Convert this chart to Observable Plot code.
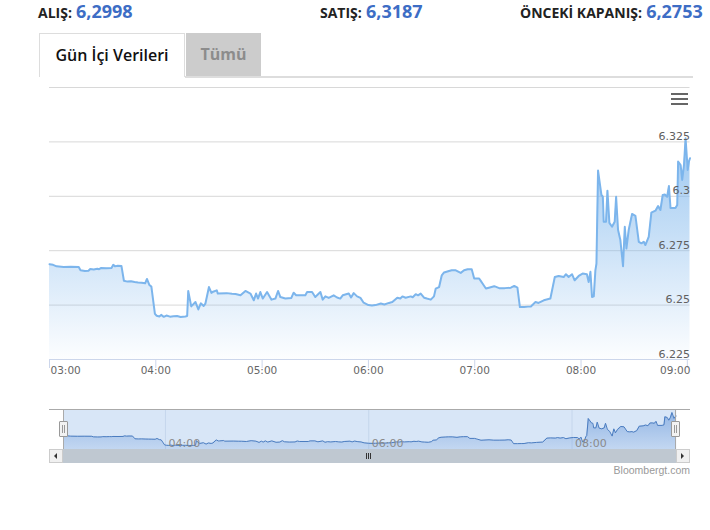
<!DOCTYPE html>
<html><head><meta charset="utf-8">
<script src="https://cdn.jsdelivr.net/npm/d3@7"></script>
<script src="https://cdn.jsdelivr.net/npm/@observablehq/plot@0.6"></script>
<style>
body{margin:0;background:#fff;}
#root{position:relative;width:710px;height:530px;overflow:hidden;font-family:"Open Sans",sans-serif;}
.abs{position:absolute;}
.q{position:absolute;top:1px;white-space:nowrap;line-height:20px;height:22px;}
.ql{font-size:14px;font-weight:700;color:#222;}
.qv{font-size:18px;font-weight:700;color:#3d6dc5;}
svg{position:absolute;left:0;overflow:visible;}
</style></head><body><div id="root"></div>
<script>
// ---- data ----
const quoteLabels = ["ALIŞ:", "SATIŞ:", "ÖNCEKİ KAPANIŞ:"];
const quoteValues = ["6,2998", "6,3187", "6,2753"];
const tabLabels = ["Gün İçi Verileri", "Tümü"];
const creditText = "Bloombergt.com";

// minutes after 03:00
const minutes = [0,2,4,8,12,16.5,17.5,20,22,23,25,27,28,29,32,35,36,37,38.5,40.6,42,44,46,48,50,52,54,55,56.4,57.5,59.5,60.5,62,63,64.5,66,68,70,72,74,76.7,77.7,78.3,80,82.4,84,85.4,87,88,90,91.4,92,94.4,95,100,103,105,107.8,110.6,113.4,115.3,116.6,117.7,119,120.4,122.8,125.3,127.5,129,130.3,133.1,136.5,137.8,139.2,144.4,145.4,148.2,150,152.9,154.2,155.7,157.6,160.4,162.3,164.1,165.5,168.9,170.2,171.7,173.6,175.5,177.3,180,182,184,187,189,191.6,193.5,196.3,198,199.2,201,203.9,205,206.7,208,209.5,211.4,213,215.2,217,218,219.9,221.4,222.7,225.5,227,229.3,232.1,234,236,238.3,239.7,242.5,243.5,244.4,246.3,248,251,253.8,257,260.4,262.3,264.1,265.5,267.9,270,271.7,274.3,276,279,282.7,285.2,287.4,290.2,291.5,293,294.9,296.4,298.7,300.9,303.3,304.3,305.3,306.2,307.2,308.1,308.7,309.6,311.5,312.3,312.8,314.1,314.9,316,317.5,319,319.8,320.9,322.2,323.7,324.7,325.6,326.9,328.8,330.7,332.6,334.1,335.4,336.3,338.2,339.7,342,343.5,344.8,346.1,347.3,348.6,349.6,350.5,353.3,354.3,354.8,356.2,357.1,358.1,359,360.2,360.9,361.5];
const rates = [6.2688,6.2685,6.2678,6.2675,6.2676,6.2675,6.2660,6.2657,6.2658,6.2666,6.2664,6.2667,6.2665,6.2670,6.2669,6.2671,6.2685,6.2678,6.2681,6.2680,6.2612,6.2608,6.2610,6.2606,6.2604,6.2603,6.2600,6.2620,6.2592,6.2585,6.2460,6.2451,6.2448,6.2455,6.2446,6.2452,6.2447,6.2449,6.2450,6.2445,6.2448,6.2450,6.2565,6.2494,6.2514,6.2480,6.2508,6.2496,6.2507,6.2583,6.2556,6.2560,6.2568,6.2553,6.2555,6.2552,6.2551,6.2545,6.2565,6.2553,6.2522,6.2553,6.2530,6.2560,6.2530,6.2560,6.2525,6.2530,6.2565,6.2537,6.2530,6.2533,6.2557,6.2545,6.2545,6.2560,6.2560,6.2537,6.2560,6.2525,6.2540,6.2533,6.2545,6.2535,6.2530,6.2545,6.2553,6.2535,6.2555,6.2540,6.2533,6.2511,6.2500,6.2498,6.2500,6.2507,6.2503,6.2510,6.2514,6.2534,6.2530,6.2540,6.2534,6.2540,6.2536,6.2550,6.2545,6.2553,6.2534,6.2530,6.2525,6.2540,6.2576,6.2583,6.2637,6.2650,6.2657,6.2660,6.2660,6.2648,6.2660,6.2665,6.2665,6.2622,6.2622,6.2610,6.2599,6.2576,6.2580,6.2587,6.2578,6.2578,6.2580,6.2588,6.2580,6.2491,6.2491,6.2493,6.2494,6.2514,6.2510,6.2522,6.2530,6.2629,6.2634,6.2629,6.2642,6.2629,6.2642,6.2614,6.2634,6.2645,6.2642,6.2606,6.2653,6.2537,6.2540,6.2660,6.2691,6.3118,6.3006,6.2998,6.2883,6.2883,6.3026,6.2878,6.2860,6.2883,6.2998,6.2845,6.2799,6.2679,6.2860,6.2760,6.2845,6.2919,6.2910,6.2791,6.2784,6.2791,6.2776,6.2814,6.2925,6.2934,6.2955,6.2937,6.3006,6.3008,6.2998,6.3047,6.2946,6.2946,6.2960,6.3160,6.3144,6.3075,6.3144,6.3267,6.3121,6.3160,6.3175];

const hourTicks = [0, 60, 120, 180, 240, 300, 360];
const hourLabels = ["03:00", "04:00", "05:00", "06:00", "07:00", "08:00", "09:00"];
const navTicks = [60, 180, 300];
const navLabels = ["04:00", "06:00", "08:00"];
const yTicks = [6.225, 6.25, 6.275, 6.3, 6.325, 6.35];
const yLabels = ["6.225", "6.25", "6.275", "6.3", "6.325", ""];
const xDomain = [0, 361.5];
const yDomain = [6.225, 6.35];

// ---- layout ----
const root = document.getElementById("root");
const quoteX = [38, 320, 520];
quoteLabels.forEach((l, i) => {
  const d = document.createElement("div");
  d.className = "q";
  d.style.left = quoteX[i] + "px";
  d.innerHTML = `<span class="ql">${l}</span> <span class="qv">${quoteValues[i]}</span>`;
  root.appendChild(d);
});
function box(css, html) {
  const d = document.createElement("div");
  d.className = "abs";
  d.style.cssText += css;
  if (html) d.innerHTML = html;
  root.appendChild(d);
  return d;
}
// tabs
box("left:39px;top:33px;width:146px;height:44px;border:1px solid #ddd;border-bottom:none;box-sizing:border-box;background:#fff;text-align:center;line-height:42px;font-size:16px;font-weight:600;color:#111;", tabLabels[0]);
box("left:186px;top:33px;width:75px;height:43px;background:#ccc;text-align:center;line-height:43px;font-size:16px;font-weight:700;color:#8c8c8c;", tabLabels[1]);
box("left:185px;top:76px;width:508px;height:2px;background:#ddd;");

const data = minutes.map((m, i) => ({m, v: rates[i]}));
const ticks = hourTicks.map((t, i) => ({t, label: hourLabels[i]}));
const yt = yTicks.map((t, i) => ({t, label: yLabels[i]}));

function gradDefs(id, color, o1, o2) {
  return () => {
    const defs = d3.create("svg:defs");
    const g = defs.append("linearGradient").attr("id", id).attr("x1", 0).attr("y1", 0).attr("x2", 0).attr("y2", 1);
    g.append("stop").attr("offset", "0%").attr("stop-color", color).attr("stop-opacity", o1);
    g.append("stop").attr("offset", "100%").attr("stop-color", color).attr("stop-opacity", o2);
    return defs.node();
  };
}

const axisFont = {fontFamily: "DejaVu Sans", fontSize: "10.5px", background: "transparent", overflow: "visible"};

const main = Plot.plot({
  width: 710, height: 300,
  marginLeft: 49, marginRight: 20.5, marginTop: 7, marginBottom: 21,
  x: {domain: xDomain, axis: null},
  y: {domain: yDomain, axis: null},
  style: axisFont,
  marks: [
    gradDefs("mainFill", "#7cb5ec", 0.75, 0.02),
    Plot.ruleY(yTicks.slice(1), {stroke: "#d8d8d8"}),
    Plot.areaY(data, {x: "m", y1: yDomain[0], y2: "v", fill: "url(#mainFill)"}),
    Plot.lineY(data, {x: "m", y: "v", stroke: "#7cb5ec", strokeWidth: 2, strokeLinejoin: "round"}),
    Plot.ruleY([yDomain[0]], {stroke: "#ccd6eb"}),
    Plot.ruleX(hourTicks, {y1: yDomain[0], y2: yDomain[0], insetBottom: -9, stroke: "#ccd6eb"}),
    Plot.text(ticks.slice(0, 1), {x: "t", text: "label", frameAnchor: "bottom", textAnchor: "start", dx: 1, dy: 14, fill: "#666"}),
    Plot.text(ticks.slice(1, -1), {x: "t", text: "label", frameAnchor: "bottom", textAnchor: "middle", dy: 14, fill: "#666"}),
    Plot.text(ticks.slice(-1), {x: "t", text: "label", frameAnchor: "bottom", textAnchor: "end", dx: 3, dy: 14, fill: "#666"}),
    Plot.text(yt, {y: "t", text: "label", frameAnchor: "right", textAnchor: "end", lineAnchor: "bottom", dy: -2, fill: "#606060", fontSize: 11})
  ]
});
main.style.top = "80px";
root.appendChild(main);

// menu icon
box("left:671px;top:93px;width:17px;height:2px;background:#666;");
box("left:671px;top:98px;width:17px;height:2px;background:#666;");
box("left:671px;top:103px;width:17px;height:2px;background:#666;");

// navigator
const nav = Plot.plot({
  width: 710, height: 70,
  marginLeft: 63.3, marginRight: 34.3, marginTop: 9.3, marginBottom: 20.7,
  x: {domain: xDomain, axis: null},
  y: {domain: d3.extent(rates), range: [45, 12], axis: null},
  style: axisFont,
  marks: [
    gradDefs("navFill", "#4f86d2", 0.5, 0.12),
    Plot.frame({fill: "#d8e6f7", stroke: "none"}),
    Plot.ruleX(navTicks, {stroke: "#c5d6ec"}),
    Plot.areaY(data, {x: "m", y1: d3.min(rates) - 0.02, y2: "v", fill: "url(#navFill)", clip: true}),
    Plot.lineY(data, {x: "m", y: "v", stroke: "#4a7cc0", strokeWidth: 1}),
    Plot.text(navTicks.map((t, i) => ({t, label: navLabels[i]})), {x: "t", text: "label", frameAnchor: "bottom", textAnchor: "start", lineAnchor: "bottom", dx: 3, dy: -3, fill: "#8a8a8a", fontSize: 11})
  ]
});
nav.style.top = "400px";
root.appendChild(nav);

// navigator outline, scrollbar, handles
box("left:49px;top:409px;width:641px;height:1px;background:#aaa;");
box("left:63px;top:409px;width:1px;height:41px;background:#aaa;");
box("left:675px;top:409px;width:1px;height:41px;background:#aaa;");
box("left:63px;top:449px;width:613px;height:14px;background:#bfc8d1;");
box("left:49px;top:449px;width:14px;height:14px;box-sizing:border-box;border:1px solid #ccc;background:#f0f0f0;");
box("left:676px;top:449px;width:14px;height:14px;box-sizing:border-box;border:1px solid #ccc;background:#f0f0f0;");
box("left:54px;top:453px;width:0;height:0;border-top:3px solid transparent;border-bottom:3px solid transparent;border-right:3px solid #333;");
box("left:681px;top:453px;width:0;height:0;border-top:3px solid transparent;border-bottom:3px solid transparent;border-left:3px solid #333;");
[366, 368, 370].forEach(x => box(`left:${x}px;top:453px;width:1px;height:6px;background:#333;`));
[59, 671].forEach(x => {
  box(`left:${x}px;top:421px;width:9px;height:16px;box-sizing:border-box;border:1px solid #999;background:#f2f2f2;border-radius:1px;`);
  box(`left:${x + 3}px;top:425px;width:1px;height:8px;background:#999;`);
  box(`left:${x + 5}px;top:425px;width:1px;height:8px;background:#999;`);
});
box("right:20px;top:463px;font-family:'Liberation Sans',Arial,sans-serif;font-size:10.5px;color:#999;line-height:14px;white-space:nowrap;", creditText);
</script></body></html>
